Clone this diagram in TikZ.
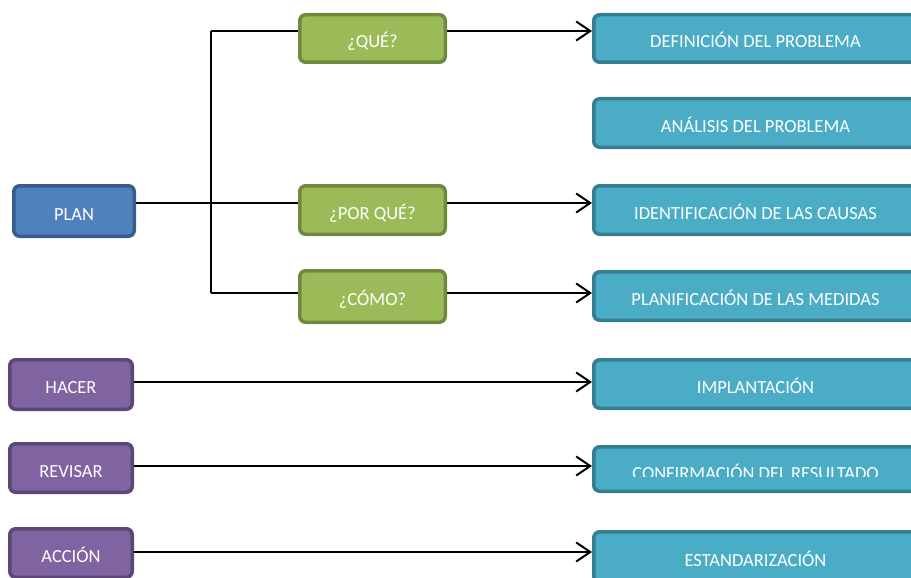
\documentclass[tikz,border=0pt]{standalone}
\usepackage{fontspec}
\setmainfont{Carlito}
\usetikzlibrary{arrows.meta}

\definecolor{planfill}{HTML}{4F81BD}
\definecolor{planline}{HTML}{385D8A}
\definecolor{qfill}{HTML}{9BBB59}
\definecolor{qline}{HTML}{71893F}
\definecolor{pfill}{HTML}{8064A2}
\definecolor{pline}{HTML}{5C4776}
\definecolor{tfill}{HTML}{4BACC6}
\definecolor{tline}{HTML}{357D91}

\tikzset{
  label text/.style={inner sep=0pt, text=white,
    font=\fontsize{18.5}{21}\selectfont, text height=19pt, text depth=1pt},
  box/.style={label text, rounded corners=6pt, line width=3.5pt},
  planbox/.style={box, fill=planfill, draw=planline},
  qbox/.style={box, fill=qfill, draw=qline, minimum width=145.5pt},
  phasebox/.style={box, fill=pfill, draw=pline, minimum width=122.5pt},
  taskbox/.style={box, fill=tfill, draw=tline, minimum width=323.5pt},
  conn/.style={line width=2pt, black},
  flow/.style={conn, -{Straight Barb[length=14pt,width=19pt]}},
}

\begin{document}
\begin{tikzpicture}[x=1pt,y=1pt]
\useasboundingbox (0,0) rectangle (911,-578);
\clip (0,0) rectangle (911,-578);

% PDCA phases
\node[planbox, minimum width=120.5pt, minimum height=50.5pt] (plan) at (74,-211) {PLAN};
\node[phasebox, minimum height=49.5pt] (hacer) at (71,-384.5) {HACER};
\node[phasebox, minimum height=48.5pt] (revisar) at (71,-468) {REVISAR};
\node[phasebox, minimum height=48.5pt] (accion) at (71,-553) {ACCIÓN};

% questions of the planning phase
\node[qbox, minimum height=47.5pt] (que) at (372.5,-38.5) {¿QUÉ?};
\node[qbox, minimum height=48.5pt] (porque) at (372.5,-210) {¿POR QUÉ?};
\node[qbox, minimum height=51.5pt] (como) at (372.5,-296.5) {¿CÓMO?};

% tasks
\node[taskbox, minimum height=47.5pt] (def) at (755.5,-38.5) {DEFINICIÓN DEL PROBLEMA};
\node[taskbox, minimum height=48.5pt] (anal) at (755.5,-123) {ANÁLISIS DEL PROBLEMA};
\node[taskbox, minimum height=48.5pt] (ident) at (755.5,-210) {IDENTIFICACIÓN DE LAS CAUSAS};
\node[taskbox, minimum height=48.5pt] (planif) at (755.5,-296) {PLANIFICACIÓN DE LAS MEDIDAS};
\node[taskbox, minimum height=48.5pt] (impl) at (755.5,-384) {IMPLANTACIÓN};
\node[taskbox, minimum height=44.5pt] (confirm) at (755.5,-469) {};
\node[taskbox, minimum height=50.5pt] (estand) at (755.5,-557) {ESTANDARIZACIÓN};

% label of the result box, cut at its lower edge
\begin{scope}
  \clip (confirm.north west) rectangle ([yshift=-7.7pt]confirm.west -| confirm.east);
  \node[label text] (confirm-label) at ([yshift=-1.5pt]confirm.center) {CONFIRMACIÓN DEL RESULTADO};
\end{scope}

% connector levels
\coordinate (lv1) at (0,-31);
\coordinate (lv2) at (0,-203);
\coordinate (lv3) at (0,-293);
\coordinate (lv4) at (0,-382);
\coordinate (lv5) at (0,-466);
\coordinate (lv6) at (0,-552);
\coordinate (bus) at (211,0);

% branching of PLAN
\draw[conn] (bus |- lv1) -- (bus |- lv3);
\draw[conn] (plan.east |- lv2) -- (porque.west |- lv2);
\draw[conn] (bus |- lv1) -- (que.west |- lv1);
\draw[conn] (bus |- lv3) -- (como.west |- lv3);

% arrows to the tasks
\draw[flow] (que.east |- lv1) -- (def.west |- lv1);
\draw[flow] (porque.east |- lv2) -- (ident.west |- lv2);
\draw[flow] (como.east |- lv3) -- (planif.west |- lv3);
\draw[flow] (hacer.east |- lv4) -- (impl.west |- lv4);
\draw[flow] (revisar.east |- lv5) -- (confirm.west |- lv5);
\draw[flow] (accion.east |- lv6) -- (estand.west |- lv6);
\end{tikzpicture}
\end{document}
